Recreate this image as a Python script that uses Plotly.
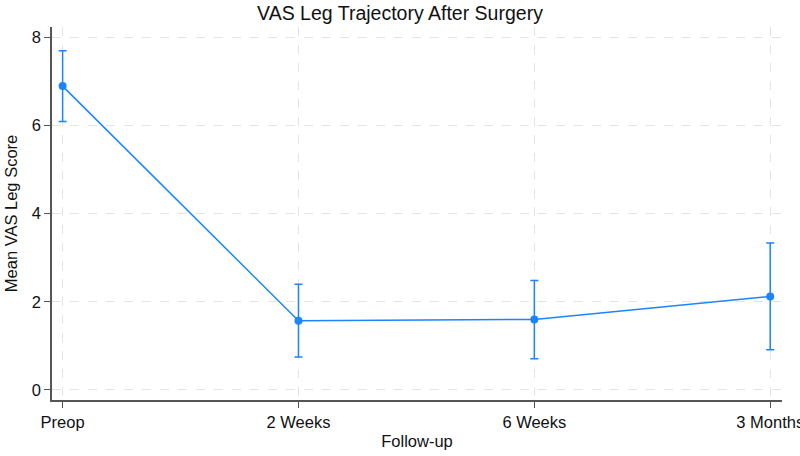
import plotly.graph_objects as go

categories = ["Preop", "2 Weeks", "6 Weeks", "3 Months"]
mean_vals = [6.89, 1.57, 1.60, 2.12]
upper_ci = [7.69, 2.40, 2.48, 3.33]
lower_ci = [6.09, 0.75, 0.71, 0.91]
y_ticks = [0, 2, 4, 6, 8]

err_plus = [u - m for u, m in zip(upper_ci, mean_vals)]
err_minus = [m - l for m, l in zip(mean_vals, lower_ci)]

color = "#1a85ff"
fig = go.Figure()
fig.add_trace(go.Scatter(
    x=list(range(len(categories))), y=mean_vals,
    mode="lines+markers",
    line=dict(color=color, width=1.5),
    marker=dict(color=color, size=8),
    error_y=dict(type="data", symmetric=False, array=err_plus, arrayminus=err_minus,
                 color=color, thickness=1.5, width=4),
    showlegend=False,
))

font_family = "Liberation Sans, Arial, sans-serif"
fig.update_layout(
    width=800, height=456,
    margin=dict(l=52, r=18, t=27, b=56),
    paper_bgcolor="white", plot_bgcolor="white",
    font=dict(family=font_family, size=16.5, color="#111"),
    title=dict(text="VAS Leg Trajectory After Surgery", x=0.5, xanchor="center",
               y=0.972, yanchor="middle", font=dict(size=19.5, color="#111")),
)
fig.update_xaxes(
    tickmode="array", tickvals=list(range(len(categories))), ticktext=categories,
    range=[-0.045, 3.05],
    showline=True, linecolor="#555", linewidth=1.5,
    ticks="outside", ticklen=6, tickcolor="#555",
    ticklabeloverflow="allow", automargin=False,
    showgrid=True, gridcolor="#e4e4e4", griddash="dash", gridwidth=1,
    zeroline=False,
    title=dict(text="Follow-up", font=dict(size=16.5), standoff=6),
)
fig.update_yaxes(
    tickmode="array", tickvals=y_ticks,
    range=[-0.227, 8.23],
    showline=True, linecolor="#555", linewidth=1.5,
    ticks="outside", ticklen=6, tickcolor="#555",
    automargin=False,
    showgrid=True, gridcolor="#e4e4e4", griddash="dash", gridwidth=1,
    zeroline=False,
    title=dict(text="Mean VAS Leg Score", font=dict(size=16.5), standoff=10),
)

fig.write_html("out.html")
